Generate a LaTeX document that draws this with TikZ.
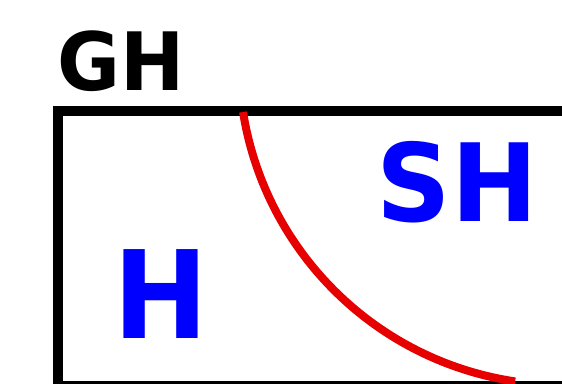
\documentclass[tikz,border=0pt]{standalone}
\usepackage{fontspec}
\setmainfont{DejaVu Sans}
\definecolor{arcred}{RGB}{230,0,0}
\definecolor{lblue}{RGB}{0,0,255}
\tikzset{
  frame/.style={draw=black, line width=9.3pt},
  border/.style={draw=arcred, line width=8pt},
  lbl/.style={inner sep=0pt, outer sep=0pt, anchor=base west, font=\bfseries}
}
\begin{document}
\begin{tikzpicture}[x=1pt,y=1pt]
\useasboundingbox (0,0) rectangle (562,383);
\clip (0,0) rectangle (562,383);
\fill[white] (0,0) rectangle (562,383);
% frame (extends beyond the right and bottom edges)
\draw[frame] (58,-3) rectangle (620,272);
% red arc
\coordinate (c) at (563,322);
\draw[border] ([shift={(189.06:324)}]c) arc[start angle=189.06, end angle=261.5, radius=324];
% labels
\node[lbl, text=black, font=\bfseries\fontsize{80.5}{96}\selectfont] (gh) at (57.1,292) {\scalebox{0.953}[1]{GH}};
\node[lbl, text=lblue, font=\bfseries\fontsize{108}{130}\selectfont] (sh) at (376.8,161.3) {\scalebox{0.958}[1]{SH}};
\node[lbl, text=lblue, font=\bfseries\fontsize{122}{146}\selectfont] (h) at (113.5,44.7) {\scalebox{0.93}[1]{H}};
\end{tikzpicture}
\end{document}
